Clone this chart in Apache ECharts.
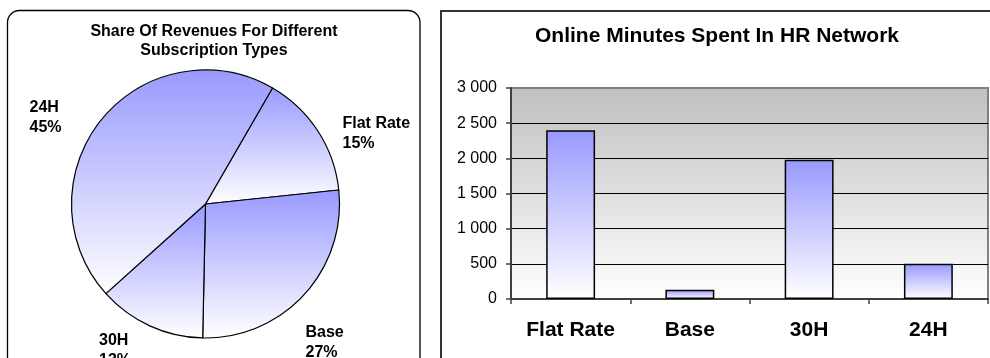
<!DOCTYPE html>
<html>
<head>
<meta charset="utf-8">
<title>Subscription charts</title>
<script src="https://cdn.jsdelivr.net/npm/echarts/dist/echarts.min.js"></script>
<style>
  html, body { margin: 0; padding: 0; background: #fff; }
  #chart { width: 990px; height: 358px; }
</style>
</head>
<body>
<div id="chart"></div>
<script>
// 饼图：各订阅类型收入占比
const pieNames = ['Flat Rate', 'Base', '30H', '24H']
const pieValues = [15, 27, 13, 45]

// 柱状图：在线分钟数
const barCategories = ['Flat Rate', 'Base', '30H', '24H']
const barValues = [2400, 130, 1980, 500]
const yTicks = { min: 0, max: 3000, interval: 500 }

const FONT = 'Liberation Sans, Arial, sans-serif'

// 饼图标签位置（按数据顺序）
const pieLabelPos = [
  [342.5, 134],
  [305.5, 342.5],
  [99, 351],
  [29.5, 117.5]
]

/**
 *蓝色到白色的竖向渐变
 *
 */
function blueFade () {
  return new echarts.graphic.LinearGradient(0, 0, 0, 1, [
    { offset: 0, color: '#9999ff' },
    { offset: 1, color: '#ffffff' }
  ])
}

// 千位用空格分隔
function spaced (value) {
  return String(value).replace(/\B(?=(\d{3})+(?!\d))/g, ' ')
}

const chart = echarts.init(document.getElementById('chart'), null, { renderer: 'canvas' })

chart.setOption({
  animation: false,
  textStyle: { fontFamily: FONT },
  graphic: [
    {
      type: 'rect',
      z: -10,
      shape: { x: 7.5, y: 10.5, width: 412.5, height: 400, r: 12 },
      style: { fill: 'transparent', stroke: '#000', lineWidth: 1.3 }
    },
    {
      type: 'rect',
      z: -10,
      shape: { x: 441, y: 11, width: 600, height: 400 },
      style: { fill: 'transparent', stroke: '#333', lineWidth: 2 }
    }
  ],
  title: [
    {
      text: 'Share Of Revenues For Different\nSubscription Types',
      left: 214,
      top: 22,
      padding: 0,
      textAlign: 'center',
      textStyle: {
        fontFamily: FONT,
        fontSize: 16,
        fontWeight: 'bold',
        lineHeight: 19,
        color: '#000'
      }
    },
    {
      text: 'Online Minutes Spent In HR Network',
      left: 717,
      top: 26,
      padding: 0,
      textAlign: 'center',
      textStyle: {
        fontFamily: FONT,
        fontSize: 21,
        fontWeight: 'bold',
        color: '#000'
      }
    }
  ],
  grid: {
    left: 511,
    right: 2,
    top: 88,
    bottom: 59,
    show: true,
    outerBoundsMode: 'none',
    borderColor: '#808080',
    borderWidth: 2,
    backgroundColor: new echarts.graphic.LinearGradient(0, 0, 0, 1, [
      { offset: 0, color: '#c0c0c0' },
      { offset: 1, color: '#ffffff' }
    ])
  },
  xAxis: {
    type: 'category',
    data: barCategories,
    axisLine: { lineStyle: { color: '#404040', width: 2 } },
    axisTick: { show: true, length: 5, alignWithLabel: false, lineStyle: { color: '#404040', width: 1.5 } },
    axisLabel: {
      margin: 21,
      fontFamily: FONT,
      fontSize: 21,
      fontWeight: 'bold',
      color: '#000'
    },
    splitLine: { show: false }
  },
  yAxis: {
    type: 'value',
    min: yTicks.min,
    max: yTicks.max,
    interval: yTicks.interval,
    axisLine: { show: true, lineStyle: { color: '#404040', width: 2 } },
    axisTick: { show: true, length: 5, lineStyle: { color: '#404040', width: 1.5 } },
    axisLabel: {
      margin: 14,
      fontFamily: FONT,
      fontSize: 16,
      color: '#000',
      formatter: spaced
    },
    splitLine: {
      show: true,
      showMaxLine: false,
      lineStyle: { color: '#000', width: 1 }
    }
  },
  series: [
    {
      type: 'pie',
      center: [205.5, 204],
      radius: 134,
      startAngle: 60,
      clockwise: true,
      avoidLabelOverlap: false,
      data: pieNames.map((name, i) => ({ name: name, value: pieValues[i] })),
      itemStyle: {
        color: blueFade,
        borderColor: '#000',
        borderWidth: 1.2
      },
      label: {
        show: true,
        position: 'outside',
        formatter: '{b}\n{d}%',
        fontFamily: FONT,
        fontSize: 16,
        fontWeight: 'bold',
        lineHeight: 20,
        color: '#000'
      },
      labelLine: { show: false },
      labelLayout: function (params) {
        const p = pieLabelPos[params.dataIndex]
        return { x: p[0], y: p[1], align: 'left', verticalAlign: 'middle' }
      },
      emphasis: { disabled: true }
    },
    {
      type: 'bar',
      data: barValues,
      barWidth: '41%',
      itemStyle: {
        color: blueFade(),
        borderColor: '#000',
        borderWidth: 1.5
      },
      emphasis: { disabled: true }
    }
  ]
})
</script>
</body>
</html>
